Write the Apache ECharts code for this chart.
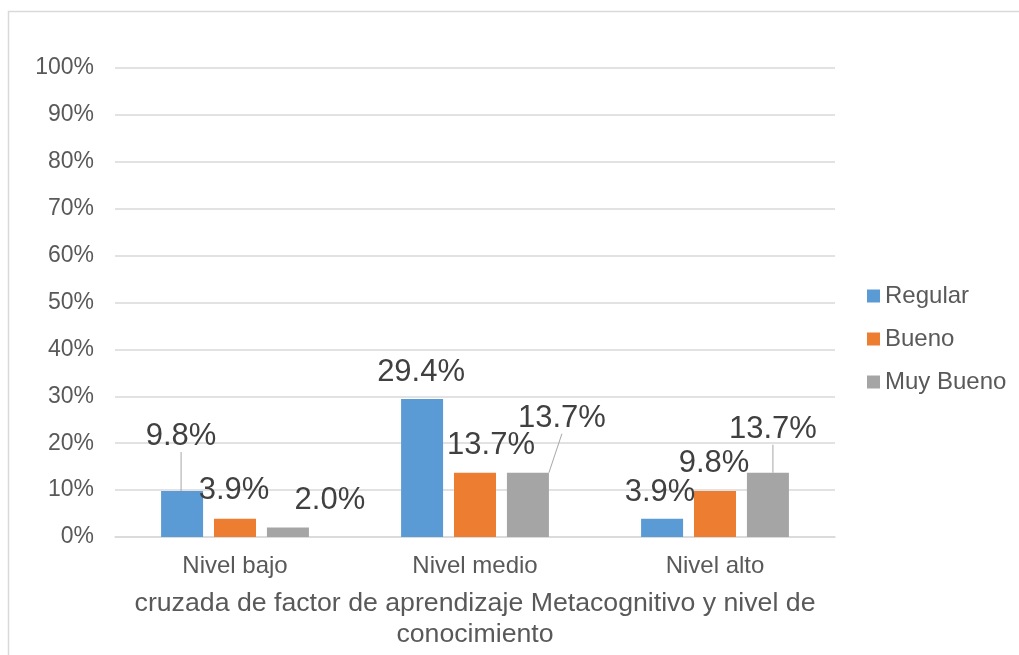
<!DOCTYPE html>
<html>
<head>
<meta charset="utf-8">
<script src="https://cdn.jsdelivr.net/npm/echarts@6/dist/echarts.min.js"></script>
<style>
  html, body { margin: 0; padding: 0; background: #fff; }
  #chart { width: 1019px; height: 655px; }
</style>
</head>
<body>
<div id="chart"></div>
<script>
  // datos
  var categories = ['Nivel bajo', 'Nivel medio', 'Nivel alto'];
  var seriesNames = ['Regular', 'Bueno', 'Muy Bueno'];
  var regular = [9.8, 29.4, 3.9];
  var bueno = [3.9, 13.7, 9.8];
  var muyBueno = [2.0, 13.7, 13.7];
  var yTicks = [0, 10, 20, 30, 40, 50, 60, 70, 80, 90, 100];

  // desplazamiento de etiquetas [dx, dy] por serie / categoria
  var labelShift = [
    [[-1, -34], [-1, -6], [-2, -6]],
    [[-1, -8], [16, -7], [-1, -7]],
    [[42, -7], [34, -34], [5, -23]]
  ];
  var leader = [
    [true, false, false],
    [false, false, false],
    [false, true, true]
  ];
  var colors = ['#5b9bd5', '#ed7d31', '#a5a5a5'];

  var chart = echarts.init(document.getElementById('chart'));

  function makeSeries(idx, values) {
    return {
      name: seriesNames[idx],
      type: 'bar',
      barWidth: 42,
      barGap: '26%',
      itemStyle: { color: colors[idx] },
      label: {
        show: true,
        position: 'top',
        distance: 5,
        fontFamily: 'Liberation Sans, Arial, sans-serif',
        fontSize: 31,
        color: '#404040',
        formatter: function (p) { return p.value.toFixed(1) + '%'; }
      },
      labelLine: { show: true, lineStyle: { color: '#a6a6a6', width: 1 } },
      labelLayout: function (p) {
        var s = labelShift[idx][p.dataIndex];
        return { dx: s[0], dy: s[1] };
      },
      data: values.map(function (v, i) {
        return { value: v, labelLine: { show: leader[idx][i] } };
      })
    };
  }

  chart.setOption({
    animation: false,
    textStyle: { fontFamily: 'Liberation Sans, Arial, sans-serif' },
    graphic: [{
      type: 'rect',
      shape: { x: 8.5, y: 11.5, width: 1100, height: 700 },
      style: { fill: 'none', stroke: '#d9d9d9', lineWidth: 1.5 },
      silent: true
    }],
    legend: {
      orient: 'vertical',
      left: 862,
      top: 279,
      itemWidth: 13,
      itemHeight: 13,
      itemGap: 19,
      icon: 'rect',
      data: seriesNames,
      textStyle: { fontSize: 24, color: '#595959', lineHeight: 23 }
    },
    grid: {
      left: 115,
      right: 184,
      top: 68,
      bottom: 114
    },
    xAxis: {
      type: 'category',
      data: categories,
      axisLine: { lineStyle: { color: '#d9d9d9', width: 1.5 } },
      axisTick: { show: false },
      axisLabel: { fontSize: 24, color: '#595959', margin: 17 },
      name: 'cruzada de factor de aprendizaje Metacognitivo y nivel de\nconocimiento',
      nameLocation: 'middle',
      nameGap: 51,
      nameTextStyle: { fontSize: 26.7, color: '#595959', lineHeight: 31 }
    },
    yAxis: {
      type: 'value',
      min: yTicks[0],
      max: yTicks[yTicks.length - 1],
      interval: 10,
      axisLine: { show: false },
      axisTick: { show: false },
      splitLine: { lineStyle: { color: '#d9d9d9', width: 1.5 } },
      axisLabel: {
        fontSize: 23,
        color: '#595959',
        margin: 21,
        formatter: function (v) { return v + '%'; }
      }
    },
    series: [
      makeSeries(0, regular),
      makeSeries(1, bueno),
      makeSeries(2, muyBueno)
    ]
  });
</script>
</body>
</html>
